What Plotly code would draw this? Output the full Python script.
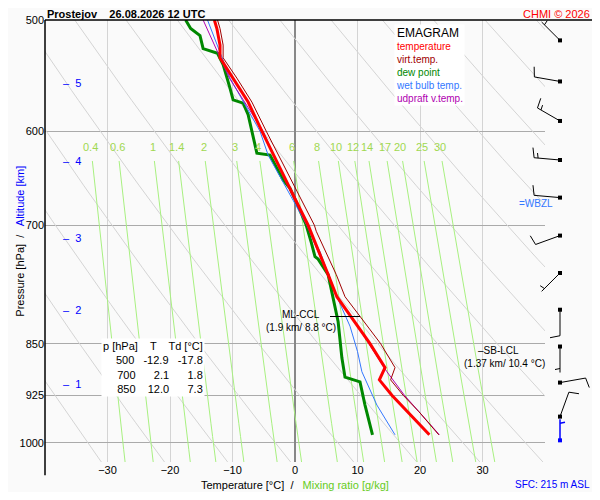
import numpy as np
import plotly.graph_objects as go

# sounding profiles (hPa / degC)
p_t = [987, 950, 925, 902, 884, 850, 815, 787, 759, 707, 700, 666, 624, 600, 572, 550, 532, 521, 507, 500]
temp = [21.5, 18.0, 15.5, 13.5, 14.4, 12.0, 9.1, 6.7, 5.3, 2.4, 2.1, -0.3, -3.5, -5.3, -7.5, -9.9, -12.0, -12.0, -12.5, -12.9]
virt = [23.0, 19.8, 17.3, 15.3, 16.0, 13.7, 10.6, 8.0, 6.6, 3.4, 3.1, 0.6, -2.7, -4.6, -6.9, -9.3, -11.5, -11.5, -12.0, -12.4]

p_td = [987, 940, 905, 898, 870, 820, 770, 759, 740, 737, 720, 700, 680, 659, 650, 624, 622, 600, 584, 573, 570, 559, 538, 528, 524, 513, 507, 500]
dewp = [12.4, 11.2, 10.4, 8.0, 7.5, 6.9, 5.6, 5.3, 3.7, 3.2, 2.6, 1.8, 0.6, -0.8, -1.9, -4.0, -6.1, -6.9, -7.5, -8.3, -9.9, -10.4, -11.5, -12.4, -14.7, -15.2, -16.7, -17.5]

p_tw = [987, 940, 890, 861, 826, 787, 731, 700, 624, 600, 550, 500]
wetb = [16.0, 13.1, 10.7, 10.0, 8.8, 6.7, 4.0, 1.9, -4.3, -5.6, -10.4, -14.0]

p_up = [987, 925, 890, 826, 787, 730, 700, 650, 600, 550, 500]
updr = [23.1, 17.5, 14.7, 10.0, 6.7, 3.6, 1.9, -1.6, -5.1, -10.5, -14.7]

# wind (pressure, direction deg, speed kt); last one is the surface wind (blue)
p_wind = [517, 553, 590, 629, 669, 712, 757, 804, 854, 906, 958, 996]
wdir = [315, 280, 300, 275, 275, 250, 225, 180, 180, 80, 20, 0]
wspd = [5, 10, 15, 15, 10, 10, 5, 10, 5, 10, 10, 5]

alt_km = [1, 2, 3, 4, 5]
alt_p = [908, 805, 715, 630, 554]

mix_ratios = [0.4, 0.6, 1, 1.4, 2, 3, 4, 6, 8, 10, 12, 14, 17, 20, 25, 30]
thetas = list(range(240, 420, 10))
p_ticks = [500, 600, 700, 850, 925, 1000]

P_TOP, P_BOT = 500, 1032
H = 442
W = 555
BARB_X = 515
FONT = "Liberation Sans"
BG = "#fafafa"

fig = go.Figure()

pp = np.linspace(P_TOP - 5, P_BOT + 20, 60)
for th in thetas:
    fig.add_trace(go.Scatter(x=th * (pp / 1000) ** 0.2857 - 273.15, y=pp, mode="lines",
                             line=dict(color="#d4d4d4", width=1), hoverinfo="skip"))

def td_from_w(w, p):
    e = w * p / (622 + w)
    a = np.log(e / 6.112)
    return 243.5 * a / (17.67 - a)

pm = np.linspace(630, P_BOT, 20)
for w in mix_ratios:
    fig.add_trace(go.Scatter(x=td_from_w(w, pm), y=pm, mode="lines",
                             line=dict(color="#a8f080", width=1), hoverinfo="skip"))
    fig.add_annotation(x=float(td_from_w(w, 616)), y=np.log10(616), text=f"{w:g}", showarrow=False,
                       font=dict(color="#a0d850", size=11))

def prof(x, y, color, width):
    fig.add_trace(go.Scatter(x=x, y=y, mode="lines", line=dict(color=color, width=width)))

prof(dewp, p_td, "#008800", 3)
prof(wetb, p_tw, "#3377ff", 1)
prof(updr, p_up, "#b000b0", 1)
prof(virt, p_t, "#a00000", 1)
prof(temp, p_t, "#ff0000", 3)

# ML-CCL marker
fig.add_trace(go.Scatter(x=[5.6, 10.4], y=[813, 813], mode="lines", line=dict(color="black", width=1)))

# wind barbs on a pixel axis
def ypix(p):
    return (np.log10(p) - np.log10(P_TOP)) / (np.log10(P_BOT) - np.log10(P_TOP)) * H

def barb(p, d, s, L):
    bx, by = [], []
    x0, y0 = BARB_X, ypix(p)
    r = np.radians(d)
    ux, uy = np.sin(r), -np.cos(r)
    x1, y1 = x0 + ux * L, y0 + uy * L
    bx += [x0, x1, None]
    by += [y0, y1, None]
    fx, fy = np.sin(r + np.pi / 2), -np.cos(r + np.pi / 2)
    n_full, half = divmod(s, 10)
    pos = 0.0
    for k in range(n_full):
        sx, sy = x1 - ux * pos, y1 - uy * pos
        bx += [sx, sx + fx * 10 + ux * 2, None]
        by += [sy, sy + fy * 10 + uy * 2, None]
        pos += 4
    if half:
        if n_full == 0:
            pos = 4
        sx, sy = x1 - ux * pos, y1 - uy * pos
        bx += [sx, sx + fx * 5 + ux * 1, None]
        by += [sy, sy + fy * 5 + uy * 1, None]
    return bx, by

kx, ky = [], []
for p, d, s in zip(p_wind[:-1], wdir[:-1], wspd[:-1]):
    bx, by = barb(p, d, s, 26)
    kx += bx
    ky += by
sx_, sy_ = barb(p_wind[-1], wdir[-1], wspd[-1], 21)
fig.add_trace(go.Scatter(x=kx, y=ky, xaxis="x2", yaxis="y2", mode="lines",
                         line=dict(color="black", width=1)))
fig.add_trace(go.Scatter(x=sx_, y=sy_, xaxis="x2", yaxis="y2", mode="lines",
                         line=dict(color="#0000ff", width=1.5)))
fig.add_trace(go.Scatter(x=[BARB_X] * len(p_wind), y=[ypix(p) for p in p_wind], xaxis="x2", yaxis="y2",
                         mode="markers", marker=dict(symbol="square", size=4,
                         color=["black"] * (len(p_wind) - 1) + ["#0000ff"])))

for km, p in zip(alt_km, alt_p):
    fig.add_annotation(x=-37.5, y=np.log10(p), text=f"–  {km}", showarrow=False,
                       font=dict(color="#0000ff", size=11), xanchor="left")

fig.add_annotation(x=1.0, y=np.log10(820), text="ML-CCL", showarrow=False, xanchor="center",
                   yanchor="bottom", font=dict(size=10, color="black"))
fig.add_annotation(x=1.0, y=np.log10(818), text="(1.9 km/ 8.8 °C)", showarrow=False,
                   yanchor="top", font=dict(size=10, color="black"))
fig.add_annotation(x=29.0, y=np.log10(870), text="–SB-LCL", showarrow=False, xanchor="left",
                   yanchor="bottom", font=dict(size=10, color="black"))
fig.add_annotation(x=33.5, y=np.log10(868), text="(1.37 km/ 10.4 °C)", showarrow=False,
                   xanchor="center", yanchor="top", font=dict(size=10, color="black"))
fig.add_annotation(x=38.5, y=np.log10(675), text="=WBZL", showarrow=False, xanchor="center",
                   font=dict(size=10, color="#3377ff"))

fig.add_annotation(xref="paper", yref="paper", x=0.10, y=0.28, xanchor="left", yanchor="top",
                   text="p [hPa]    T    Td [°C]<br>   500   -12.9   -17.8<br>   700      2.1      1.8"
                        "<br>   850    12.0      7.3",
                   showarrow=False, align="right", bgcolor="white", font=dict(size=11, color="black"))

fig.add_annotation(xref="paper", yref="paper", x=0.628, y=0.99, xanchor="left", yanchor="top",
                   text="<span style='font-size:12px;color:black'>EMAGRAM</span><br>"
                        "<span style='color:#ff0000'>temperature</span><br>"
                        "<span style='color:#a00000'>virt.temp.</span><br>"
                        "<span style='color:#008800'>dew point</span><br>"
                        "<span style='color:#3377ff'>wet bulb temp.</span><br>"
                        "<span style='color:#b000b0'>udpraft v.temp.</span>",
                   showarrow=False, align="left", bgcolor="white", font=dict(size=10))

fig.add_annotation(xref="paper", yref="paper", x=0.0, y=1.0, yanchor="bottom", xanchor="left",
                   yshift=-2, text="<b>Prostejov    26.08.2026 12 UTC</b>", showarrow=False,
                   font=dict(size=11, color="black"))
fig.add_annotation(xref="paper", yref="paper", x=0.985, y=1.0, yanchor="bottom", xanchor="right",
                   yshift=-2, text="CHMI © 2026", showarrow=False, font=dict(size=11, color="#ff0000"))
fig.add_annotation(xref="paper", yref="paper", x=0.45, y=-0.035, yanchor="top",
                   text="Temperature [°C]  /   <span style='color:#66cc22'>Mixing ratio [g/kg]</span>",
                   showarrow=False, font=dict(size=11, color="black"))
fig.add_annotation(xref="paper", yref="paper", x=0.985, y=-0.035, yanchor="top", xanchor="right",
                   text="SFC: 215 m ASL", showarrow=False, font=dict(size=10, color="#0000ff"))
fig.add_annotation(xref="paper", yref="paper", x=-0.06, y=0.5, textangle=-90,
                   text="Pressure [hPa]  /   <span style='color:#0000ff'>Altitude [km]</span>",
                   showarrow=False, font=dict(size=11, color="black"))

fig.add_shape(type="line", xref="paper", yref="paper", x0=0, x1=1, y0=1, y1=1,
              line=dict(color="black", width=1.5))
fig.add_shape(type="line", xref="paper", yref="paper", x0=0, x1=0, y0=-0.03, y1=1,
              line=dict(color="black", width=1.5))

xdom = 500 / W
fig.update_layout(
    width=592, height=484, showlegend=False,
    margin=dict(l=37, r=0, t=12, b=30),
    paper_bgcolor=BG, plot_bgcolor="rgba(0,0,0,0)",
    font=dict(family=FONT, size=11, color="black"),
    xaxis=dict(domain=[0, xdom], range=[-40, 40], tickvals=list(range(-30, 31, 10)),
               showgrid=True, gridcolor="#d4d4d4", zeroline=True, zerolinecolor="#888888",
               zerolinewidth=1.5, ticks="", showline=False, tickfont=dict(size=11)),
    yaxis=dict(type="log", range=[np.log10(P_BOT), np.log10(P_TOP)], tickvals=p_ticks,
               ticktext=[str(v) for v in p_ticks], showgrid=True, gridcolor="#aaaaaa",
               ticks="", showline=False, zeroline=False, tickfont=dict(size=11)),
    xaxis2=dict(domain=[0, 1], range=[0, W], visible=False, anchor="y2"),
    yaxis2=dict(domain=[0, 1], range=[H, 0], visible=False, anchor="x2"),
)

fig.write_html("out.html")
